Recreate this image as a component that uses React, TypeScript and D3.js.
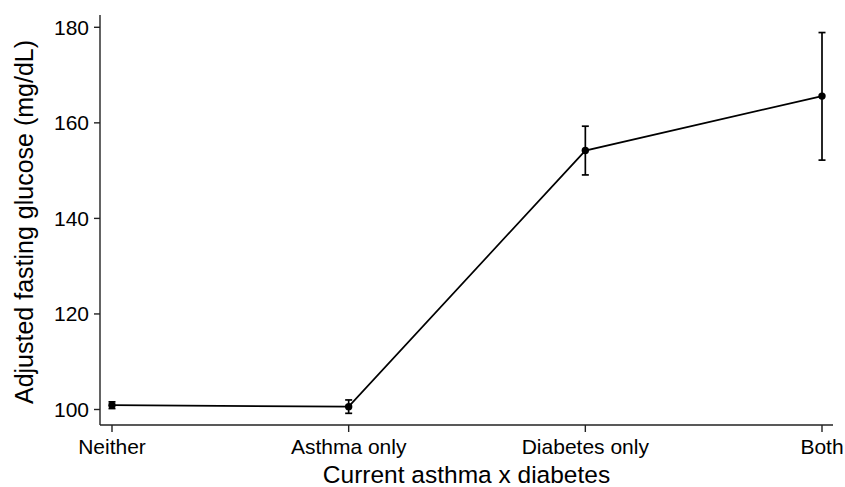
import React from "react";
import * as d3 from "d3";

const categories = ["Neither", "Asthma only", "Diabetes only", "Both"];
const means = [100.9, 100.6, 154.2, 165.6];
const lower = [100.2, 99.2, 149.1, 152.2];
const upper = [101.6, 102.0, 159.3, 178.9];
const yTicks = [100, 120, 140, 160, 180];

const W = 845;
const H = 487;
const FONT = "'Liberation Sans', Arial, Helvetica, sans-serif";

export default function App() {
  const axisLeft = 100;
  const axisRight = 833;
  const axisTop = 15;
  const axisBottom = 425;

  const x = d3.scalePoint<string>().domain(categories).range([112, 822]);
  const y = d3.scaleLinear().domain([100, 180]).range([409.5, 27.3]);

  const pts: [number, number][] = categories.map((c, i) => [x(c) as number, y(means[i])]);
  const line = d3.line()(pts) as string;

  return (
    <svg width={W} height={H} style={{ position: "absolute", left: 0, top: 0, background: "#fff" }}>
      <rect x={0} y={0} width={W} height={H} fill="#fff" />
      {/* axes */}
      <line x1={axisLeft} x2={axisLeft} y1={axisTop} y2={axisBottom} stroke="#222" strokeWidth={1.4} />
      <line x1={axisLeft} x2={axisRight} y1={axisBottom} y2={axisBottom} stroke="#222" strokeWidth={1.4} />
      {yTicks.map((t) => (
        <g key={t}>
          <line x1={axisLeft - 6} x2={axisLeft} y1={y(t)} y2={y(t)} stroke="#222" strokeWidth={1.4} />
          <text x={axisLeft - 11} y={y(t)} dy="0.35em" textAnchor="end" fontFamily={FONT} fontSize={21} fill="#000">
            {t}
          </text>
        </g>
      ))}
      {categories.map((c) => (
        <g key={c}>
          <line x1={x(c)} x2={x(c)} y1={axisBottom} y2={axisBottom + 7} stroke="#222" strokeWidth={1.4} />
          <text x={x(c)} y={454} textAnchor="middle" fontFamily={FONT} fontSize={21} fill="#000">
            {c}
          </text>
        </g>
      ))}
      <text x={(axisLeft + axisRight) / 2} y={483} textAnchor="middle" fontFamily={FONT} fontSize={24.5} fill="#000">
        Current asthma x diabetes
      </text>
      <text
        transform={`translate(33, ${(axisTop + axisBottom) / 2 + 2}) rotate(-90)`}
        textAnchor="middle"
        fontFamily={FONT}
        fontSize={25}
        fill="#000"
      >
        Adjusted fasting glucose (mg/dL)
      </text>
      {/* line */}
      <path d={line} fill="none" stroke="#000" strokeWidth={1.7} />
      {/* error bars */}
      {categories.map((c, i) => {
        const cx = x(c) as number;
        return (
          <g key={c} stroke="#000" strokeWidth={1.7}>
            <line x1={cx} x2={cx} y1={y(lower[i])} y2={y(upper[i])} />
            <line x1={cx - 3.5} x2={cx + 3.5} y1={y(lower[i])} y2={y(lower[i])} />
            <line x1={cx - 3.5} x2={cx + 3.5} y1={y(upper[i])} y2={y(upper[i])} />
          </g>
        );
      })}
      {categories.map((c, i) => (
        <circle key={c} cx={x(c)} cy={y(means[i])} r={3.7} fill="#000" />
      ))}
    </svg>
  );
}
